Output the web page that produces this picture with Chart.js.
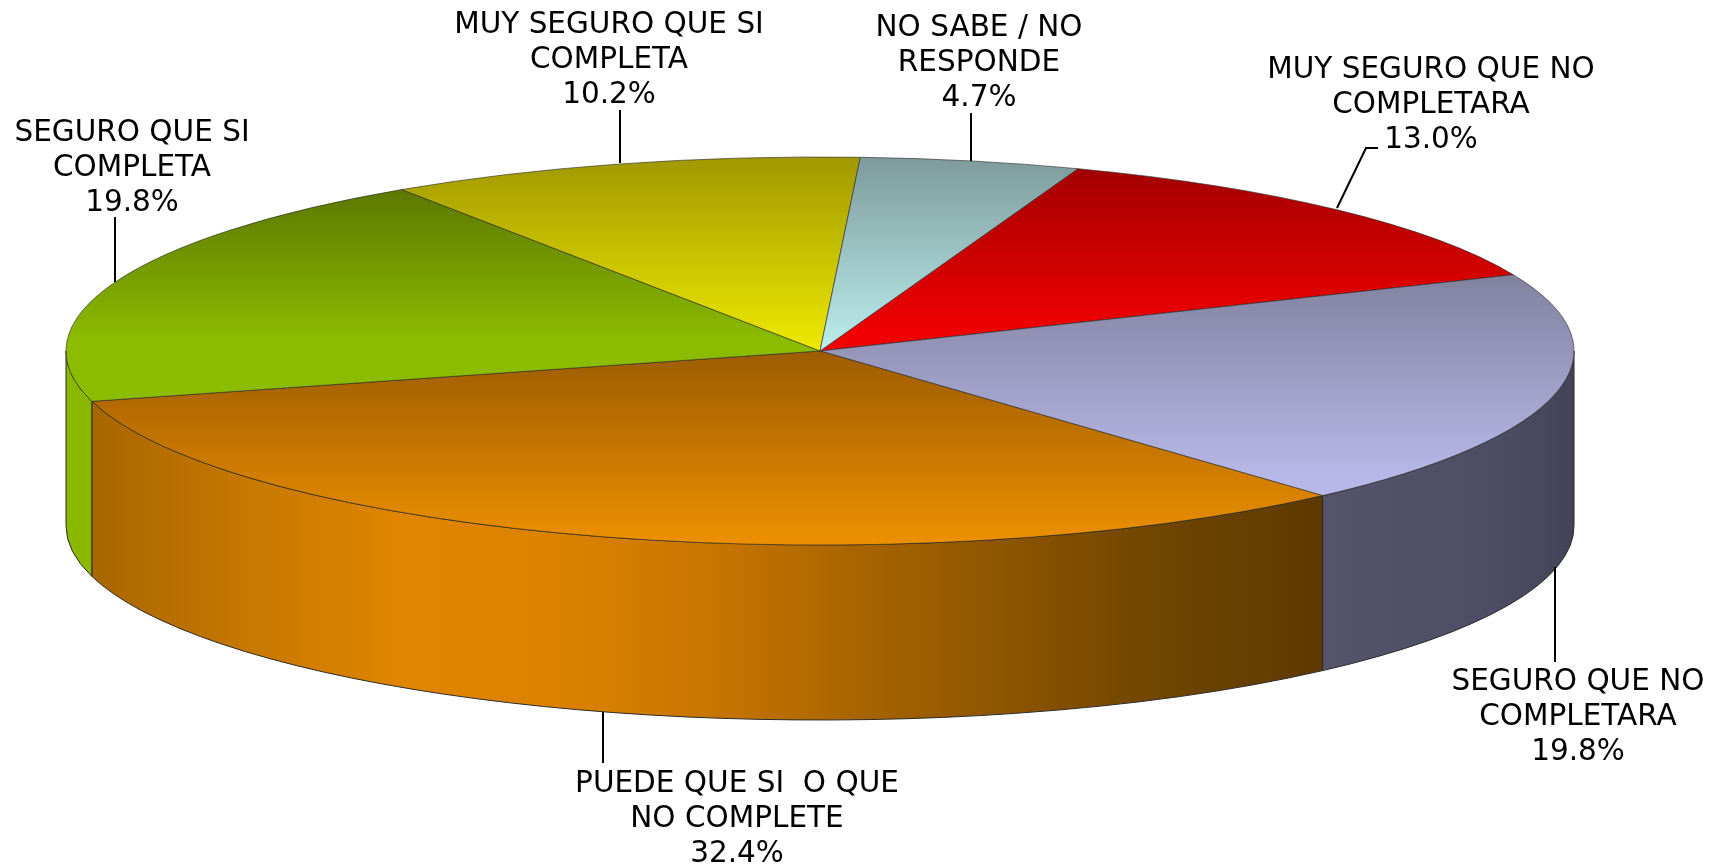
<!DOCTYPE html>
<html>
<head>
<meta charset="utf-8">
<title>Pie 3D</title>
<script src="https://cdn.jsdelivr.net/npm/chart.js@4"></script>
<style>
    html, body { margin: 0; padding: 0; background: #fff; }
    canvas { display: block; }
</style>
</head>
<body>
<canvas id="pie-chart" width="1715" height="866"></canvas>
<script>
/* ── Data, clockwise from the first slice ── */
const categories = [
    ['MUY SEGURO QUE NO', 'COMPLETARA'],
    ['SEGURO QUE NO', 'COMPLETARA'],
    ['PUEDE QUE SI  O QUE', 'NO COMPLETE'],
    ['SEGURO QUE SI', 'COMPLETA'],
    ['MUY SEGURO QUE SI', 'COMPLETA'],
    ['NO SABE / NO', 'RESPONDE']
];
const values = [13.0, 19.8, 32.4, 19.8, 10.2, 4.7];

/* ── Colours: top face (dark, light, where light is reached), side wall stops ── */
const topColors = [
    ['#a30000', '#f00000', 0.9],
    ['#81819f', '#b8b8e8', 0.92],
    ['#9c5c00', '#ee9000', 1],
    ['#5c7800', '#8cbc00', 0.72],
    ['#a09800', '#eeea00', 1],
    ['#7e9a9a', '#bceeee', 1]
];
const wallColors = [
    ['#000', '#000'],
    ['#54556c', '#51526a', '#4f5068', '#4b4c62', '#434358'],
    ['#a86600', '#c67800', '#e08500', '#dc8200', '#c87600', '#a86400', '#8a5400', '#6e4400', '#5e3900'],
    ['#8ab800', '#8ab800'],
    ['#000', '#000'],
    ['#000', '#000']
];

/* ── Geometry and label layout ── */
const PIE = { cx: 820, cy: 351, rx: 754, ry: 194, depth: 175, rotation: 20 };
const FONT = '29.5px "DejaVu Sans"';
const LINE_HEIGHT = 35;

// text centre x, first baseline y, leader polyline
const labelLayout = [
    { x: 1431, y: 78, leader: [[1378, 148], [1366, 148], [1337, 208]] },
    { x: 1578, y: 690, leader: [[1555, 662], [1555, 567]] },
    { x: 737, y: 792, leader: [[603, 763], [603, 712]] },
    { x: 132, y: 141, leader: [[115, 217], [115, 282]] },
    { x: 609, y: 33, leader: [[620, 110], [620, 163]] },
    { x: 979, y: 36, leader: [[971, 113], [971, 161]] }
];

const TWO_PI = Math.PI * 2;

/* ── Slice angles in canvas radians ── */
const sliceAngles = () => {
    const total = values.reduce((a, b) => a + b, 0);
    let a = (PIE.rotation - 90) * Math.PI / 180;
    return values.map(v => {
        const start = a;
        a += v / total * TWO_PI;
        return [start, a];
    });
};

/* ── Vertical gradient over each slice's own height ── */
const topGradient = (context) => {
    const chart = context.chart;
    const [dark, light, lightAt] = topColors[context.dataIndex];
    if (!chart.chartArea) return light;
    const [a1, a2] = sliceAngles()[context.dataIndex];
    const ys = [Math.sin(a1), Math.sin(a2), 0];
    [-Math.PI / 2, Math.PI / 2, Math.PI * 1.5].forEach(q => {
        if (q > a1 && q < a2) ys.push(Math.sin(q));
    });
    const midY = (chart.chartArea.top + chart.chartArea.bottom) / 2;
    const g = chart.ctx.createLinearGradient(0, midY + Math.min(...ys) * PIE.rx, 0, midY + Math.max(...ys) * PIE.rx);
    g.addColorStop(0, dark);
    g.addColorStop(lightAt, light);
    g.addColorStop(1, light);
    return g;
};

/* ── Extruded side wall, only the part facing the viewer ── */
const drawWalls = (ctx) => {
    sliceAngles().forEach(([a1, a2], i) => {
        const from = Math.max(a1, 0);
        const to = Math.min(a2, Math.PI);
        if (to <= from) return;

        const x1 = PIE.cx + Math.cos(to) * PIE.rx;
        const x2 = PIE.cx + Math.cos(from) * PIE.rx;
        const g = ctx.createLinearGradient(x1, 0, x2, 0);
        wallColors[i].forEach((c, n) => g.addColorStop(n / (wallColors[i].length - 1), c));

        ctx.beginPath();
        ctx.ellipse(PIE.cx, PIE.cy, PIE.rx, PIE.ry, 0, from, to);
        ctx.ellipse(PIE.cx, PIE.cy + PIE.depth, PIE.rx, PIE.ry, 0, to, from, true);
        ctx.closePath();
        ctx.fillStyle = g;
        ctx.fill();
        ctx.lineWidth = 1;
        ctx.strokeStyle = '#2a2a2a';
        ctx.stroke();
    });
};

const pie3d = {
    id: 'pie3d',
    beforeDatasetsDraw(chart) {
        const ctx = chart.ctx;
        const arc = chart.getDatasetMeta(0).data[0];
        drawWalls(ctx);
        // squash the flat pie into the top ellipse
        ctx.save();
        ctx.translate(PIE.cx, PIE.cy);
        ctx.scale(1, PIE.ry / PIE.rx);
        ctx.translate(-arc.x, -arc.y);
    },
    afterDatasetsDraw(chart) {
        chart.ctx.restore();
    },
    afterDraw(chart) {
        const ctx = chart.ctx;
        ctx.save();
        ctx.fillStyle = '#000';
        ctx.strokeStyle = '#000';
        ctx.lineWidth = 2;
        ctx.font = FONT;
        ctx.textAlign = 'center';
        ctx.textBaseline = 'alphabetic';

        labelLayout.forEach((pos, i) => {
            const lines = [...categories[i], values[i].toFixed(1) + '%'];
            lines.forEach((line, n) => ctx.fillText(line, pos.x, pos.y + n * LINE_HEIGHT));

            ctx.beginPath();
            pos.leader.forEach(([x, y], n) => n ? ctx.lineTo(x, y) : ctx.moveTo(x, y));
            ctx.stroke();
        });
        ctx.restore();
    }
};

new Chart(document.getElementById('pie-chart'), {
    type: 'pie',
    data: {
        labels: categories.map(c => c.join(' ')),
        datasets: [{
            data: values,
            backgroundColor: topGradient,
            borderColor: '#2a2a2a',
            borderWidth: 1,
            clip: false
        }]
    },
    options: {
        responsive: false,
        animation: false,
        rotation: PIE.rotation,
        radius: PIE.rx,
        layout: { padding: 0 },
        plugins: {
            legend: { display: false },
            tooltip: { enabled: false }
        }
    },
    plugins: [pie3d]
});
</script>
</body>
</html>
